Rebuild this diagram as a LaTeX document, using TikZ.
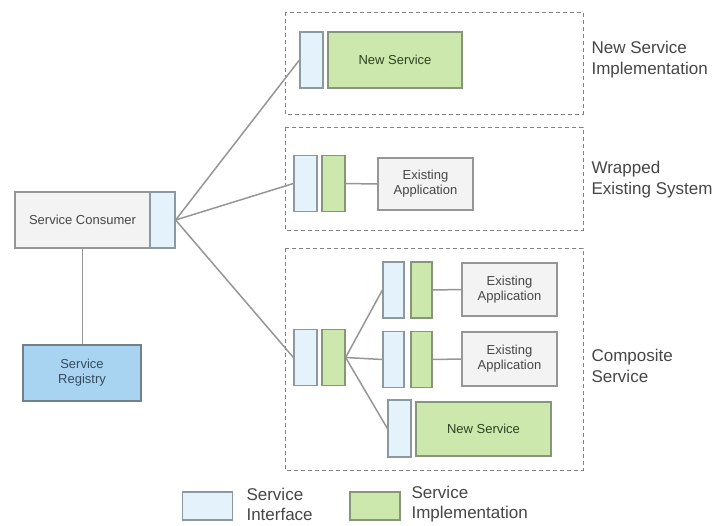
\documentclass[tikz,border=0pt]{standalone}
\usepackage{fontspec}
\setmainfont{Liberation Sans}
\definecolor{r228g242b251}{RGB}{228,242,251}%
\definecolor{r140g152b162}{RGB}{140,152,162}%
\definecolor{r205g232b172}{RGB}{205,232,172}%
\definecolor{r135g150b120}{RGB}{135,150,120}%
\definecolor{r243g243b243}{RGB}{243,243,243}%
\definecolor{r150g150b150}{RGB}{150,150,150}%
\definecolor{r168g212b242}{RGB}{168,212,242}%
\definecolor{r115g128b140}{RGB}{115,128,140}%
\definecolor{r130g130b130}{RGB}{130,130,130}%
\definecolor{r70g70b70}{RGB}{70,70,70}%
\definecolor{r45g65b35}{RGB}{45,65,35}%
\definecolor{r55g75b95}{RGB}{55,75,95}%
\begin{document}
\begin{tikzpicture}[x=1pt,y=-1pt,
  iface/.style={draw=r140g152b162, fill=r228g242b251, line width=1.2pt, minimum width=23pt, minimum height=56pt, inner sep=0pt},
  impl/.style={draw=r135g150b120, fill=r205g232b172, line width=1.2pt, minimum width=23pt, minimum height=56pt, inner sep=0pt, text=r45g65b35, font=\fontsize{13}{15}\selectfont},
  appbox/.style={draw=r150g150b150, fill=r243g243b243, line width=1.2pt, minimum width=95pt, minimum height=53pt, inner sep=0pt, align=center, text=r70g70b70, font=\fontsize{13}{15}\selectfont},
  group/.style={draw=r130g130b130, line width=1pt, dash pattern=on 4pt off 3pt},
  wire/.style={draw=r150g150b150, line width=1.5pt},
  caption/.style={anchor=west, align=left, text=r70g70b70, font=\fontsize{17}{21}\selectfont}]
\useasboundingbox (0,0) rectangle (717,525);

% Drawing consumer and registry
\node (consumer) at (82.5,220) [appbox, minimum width=135pt, minimum height=56pt] {Service Consumer};
\node (coniface) at (162.5,220) [iface, minimum width=25pt] {};
\node (registry) at (82,373) [appbox, minimum width=118pt, minimum height=56pt, fill=r168g212b242, draw=r115g128b140, text=r55g75b95] {Service\\Registry};

% Drawing group boxes
\draw [group] (285,12) rectangle (583,114);%
\draw [group] (285,127) rectangle (583,230);%
\draw [group] (285,248) rectangle (583,470);%

% New service implementation
\node (newiface) at (311.5,60) [iface] {};
\node (newimpl) at (395,60) [impl, minimum width=134pt] {New Service};

% Wrapped existing system
\node (wrapiface) at (305.5,183.5) [iface] {};
\node (wrapimpl) at (333.5,183.5) [impl] {};
\node (wrapapp) at (425.5,184) [appbox, minimum height=52pt] {Existing\\Application};

% Composite service
\node (compiface) at (305.5,357.5) [iface] {};
\node (compimpl) at (333.5,357.5) [impl] {};
\node (rowaiface) at (393.5,290) [iface, minimum width=21pt] {};
\node (rowaimpl) at (421.5,290) [impl, minimum width=21pt] {};
\node (rowaapp) at (509.5,289.5) [appbox] {Existing\\Application};
\node (rowbiface) at (393.5,359.5) [iface, minimum width=21pt] {};
\node (rowbimpl) at (421.5,359.5) [impl, minimum width=21pt] {};
\node (rowbapp) at (509.5,359) [appbox, minimum height=54pt] {Existing\\Application};
\node (rowciface) at (399.5,428.5) [iface, minimum height=57pt] {};
\node (rowcimpl) at (483.5,429) [impl, minimum width=135pt, minimum height=54pt] {New Service};

% Drawing connectors
\draw [wire] (consumer.south) -- (consumer.south |- registry.north);%
\draw [wire] (coniface.east) -- (newiface.west);%
\draw [wire] (coniface.east) -- (wrapiface.west);%
\draw [wire] (coniface.east) -- (compiface.west);%
\draw [wire] (wrapimpl.east) -- (wrapapp.west);%
\draw [wire] (compimpl.east) -- (rowaiface.west);%
\draw [wire] (compimpl.east) -- (rowbiface.west);%
\draw [wire] (compimpl.east) -- (rowciface.west);%
\draw [wire] (rowaimpl.east) -- (rowaapp.west);%
\draw [wire] (rowbimpl.east) -- (rowbapp.west);%

% Marking group captions
\node (capnew) at (588,60) [caption] {New Service\\Implementation};
\node (capwrap) at (588,180) [caption] {Wrapped\\Existing System};
\node (capcomp) at (588,366) [caption] {Composite\\Service};

% Drawing legend
\node (legiface) at (207.5,506) [iface, minimum width=50pt, minimum height=28pt] {};
\node (legifacetext) at (243,504) [caption, font=\fontsize{17}{20}\selectfont] {Service\\Interface};
\node (legimpl) at (375,506) [impl, minimum width=50pt, minimum height=28pt] {};
\node (legimpltext) at (408,504) [caption, font=\fontsize{17}{20}\selectfont] {Service\\Implementation};
\end{tikzpicture}
\end{document}
